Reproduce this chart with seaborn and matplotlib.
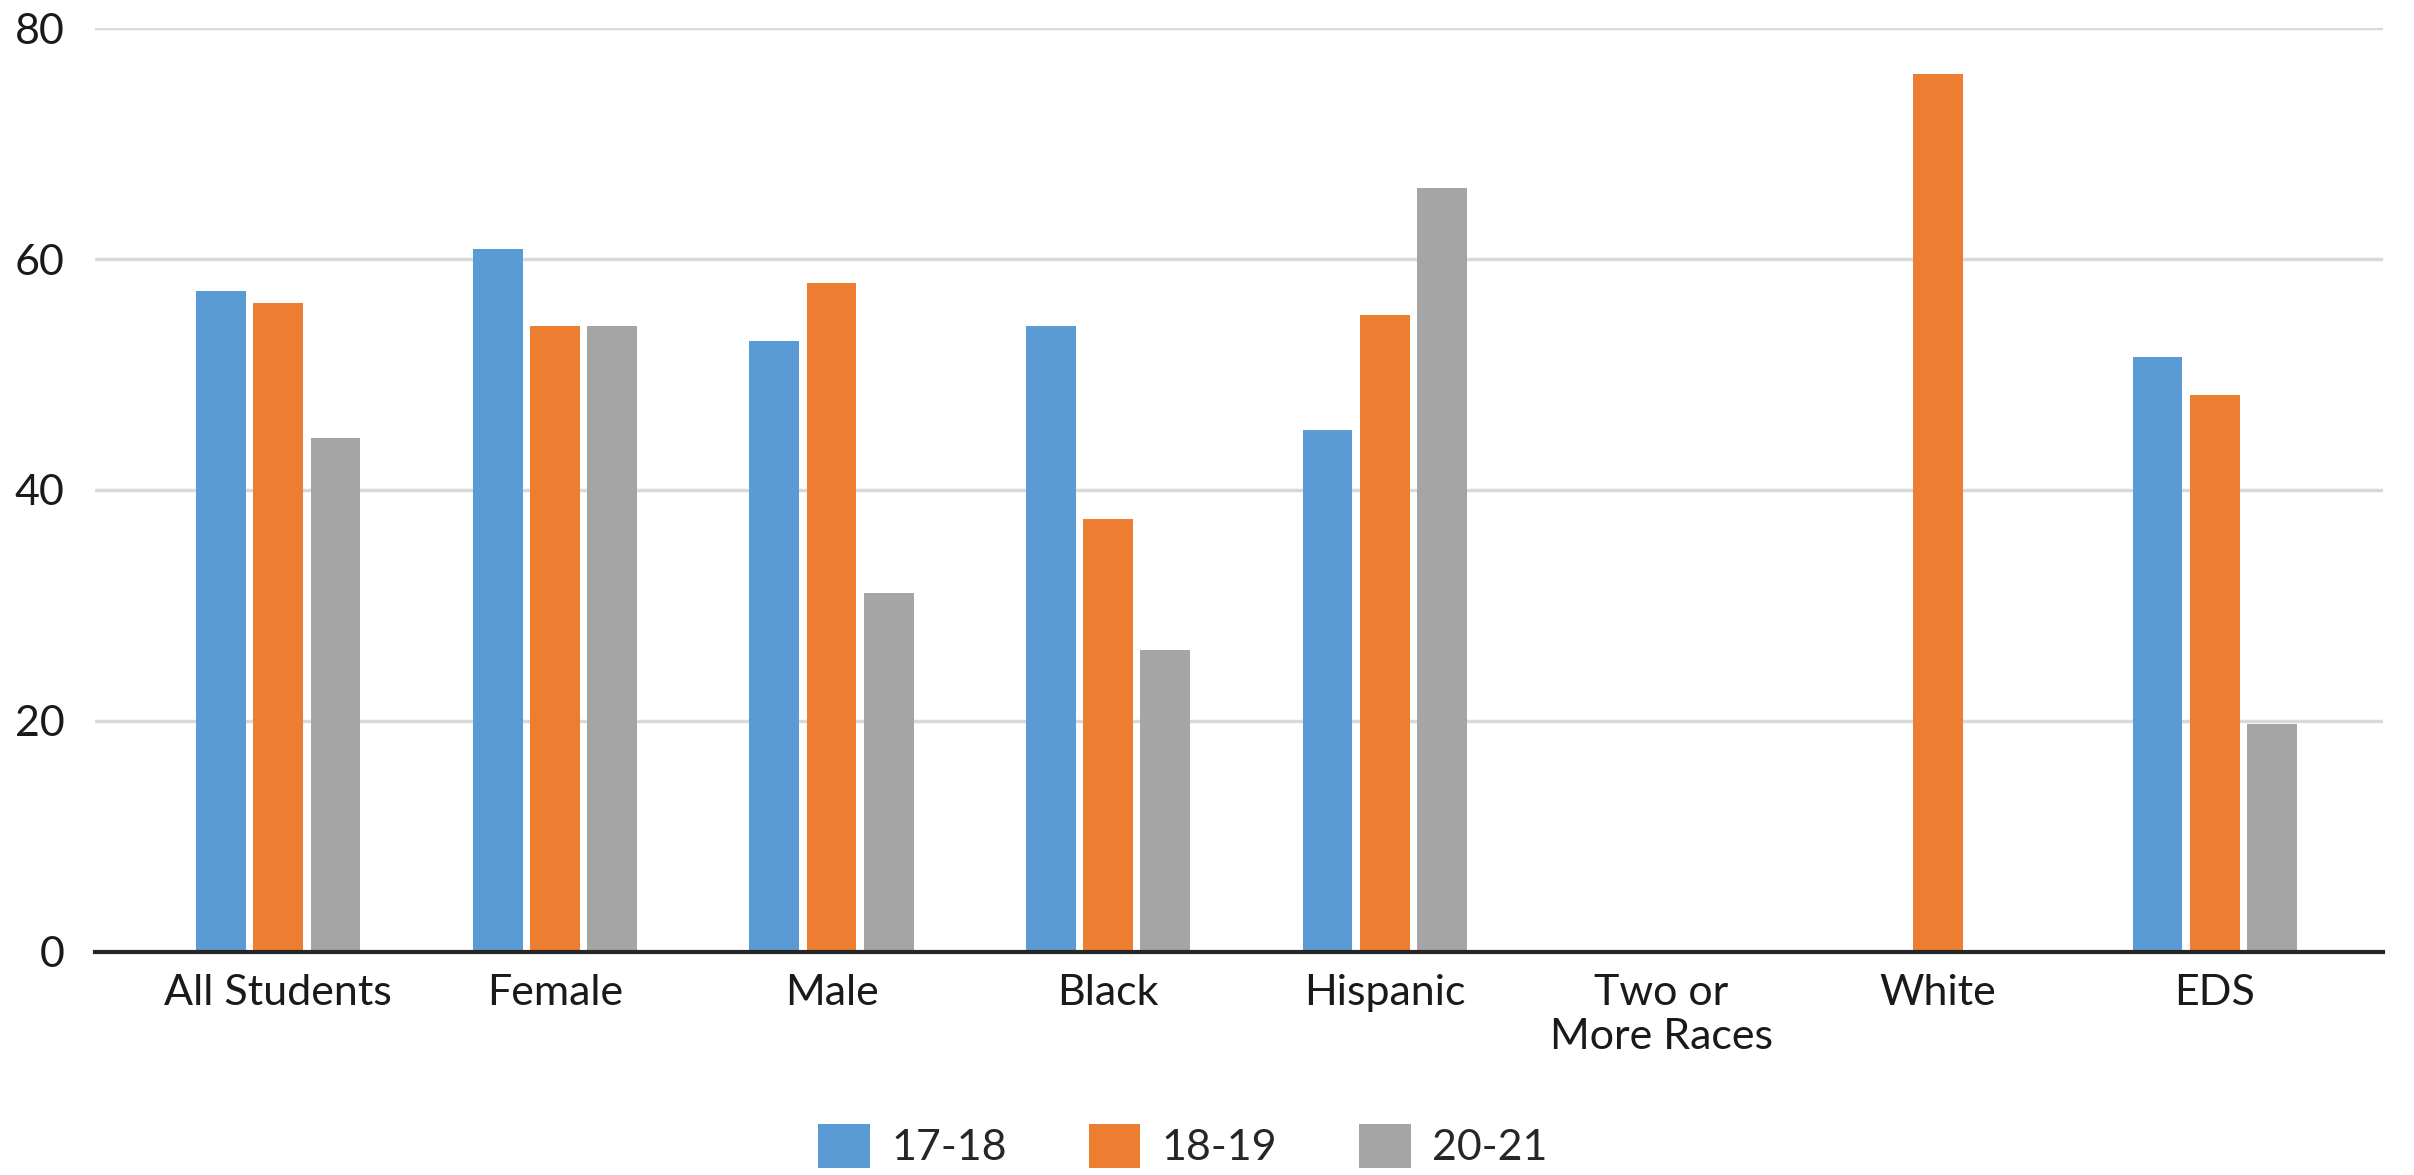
import numpy as np
import pandas as pd
import matplotlib
matplotlib.use("Agg")
import matplotlib.pyplot as plt
import seaborn as sns

# --- data ---
categories = ["All Students", "Female", "Male", "Black", "Hispanic",
              "Two or\nMore Races", "White", "EDS"]
years = ["17-18", "18-19", "20-21"]
vals_17_18 = [57.2, 60.9, 52.9, 54.2, 45.2, np.nan, np.nan, 51.5]
vals_18_19 = [56.2, 54.2, 57.9, 37.5, 55.2, np.nan, 76.0, 48.2]
vals_20_21 = [44.5, 54.2, 31.1, 26.1, 66.2, np.nan, np.nan, 19.7]
colors = ["#5B9BD5", "#ED7D31", "#A5A5A5"]

df = pd.DataFrame({
    "group": categories * 3,
    "year": [y for y in years for _ in categories],
    "value": vals_17_18 + vals_18_19 + vals_20_21,
})

sns.set_theme(style="white")
plt.rcParams["font.family"] = ["Lato", "DejaVu Sans"]

fig, ax = plt.subplots(figsize=(24.14, 11.75), dpi=100)
fig.subplots_adjust(left=0.0394, right=0.987, top=0.976, bottom=0.19)

sns.barplot(data=df, x="group", y="value", hue="year", hue_order=years,
            order=categories, palette=colors, width=0.62, gap=0.13,
            saturation=1, linewidth=0, ax=ax, legend=True)

ax.set_ylim(0, 80)
ax.set_yticks([0, 20, 40, 60, 80])
ax.set_xlim(-0.662, 7.607)
ax.yaxis.grid(True, color="#D9D9D9", linewidth=2.5)
ax.set_axisbelow(True)
for side in ["top", "right", "left"]:
    ax.spines[side].set_visible(False)
ax.spines["bottom"].set_color("#262626")
ax.spines["bottom"].set_linewidth(3)
ax.set_xlabel("")
ax.set_ylabel("")
ax.tick_params(axis="both", length=0, colors="#1a1a1a")
ax.tick_params(axis="x", pad=16, labelsize=31)
ax.tick_params(axis="y", pad=22, labelsize=31)

handles, labels = ax.get_legend_handles_labels()
ax.get_legend().remove()
fig.legend(handles, labels, loc="center", bbox_to_anchor=(0.49, 0.025),
           ncol=3, frameon=False, fontsize=31, handlelength=1.2,
           handleheight=1.2, columnspacing=1.9, handletextpad=0.5)

plt.savefig("out.png", dpi=100)
plt.close()
